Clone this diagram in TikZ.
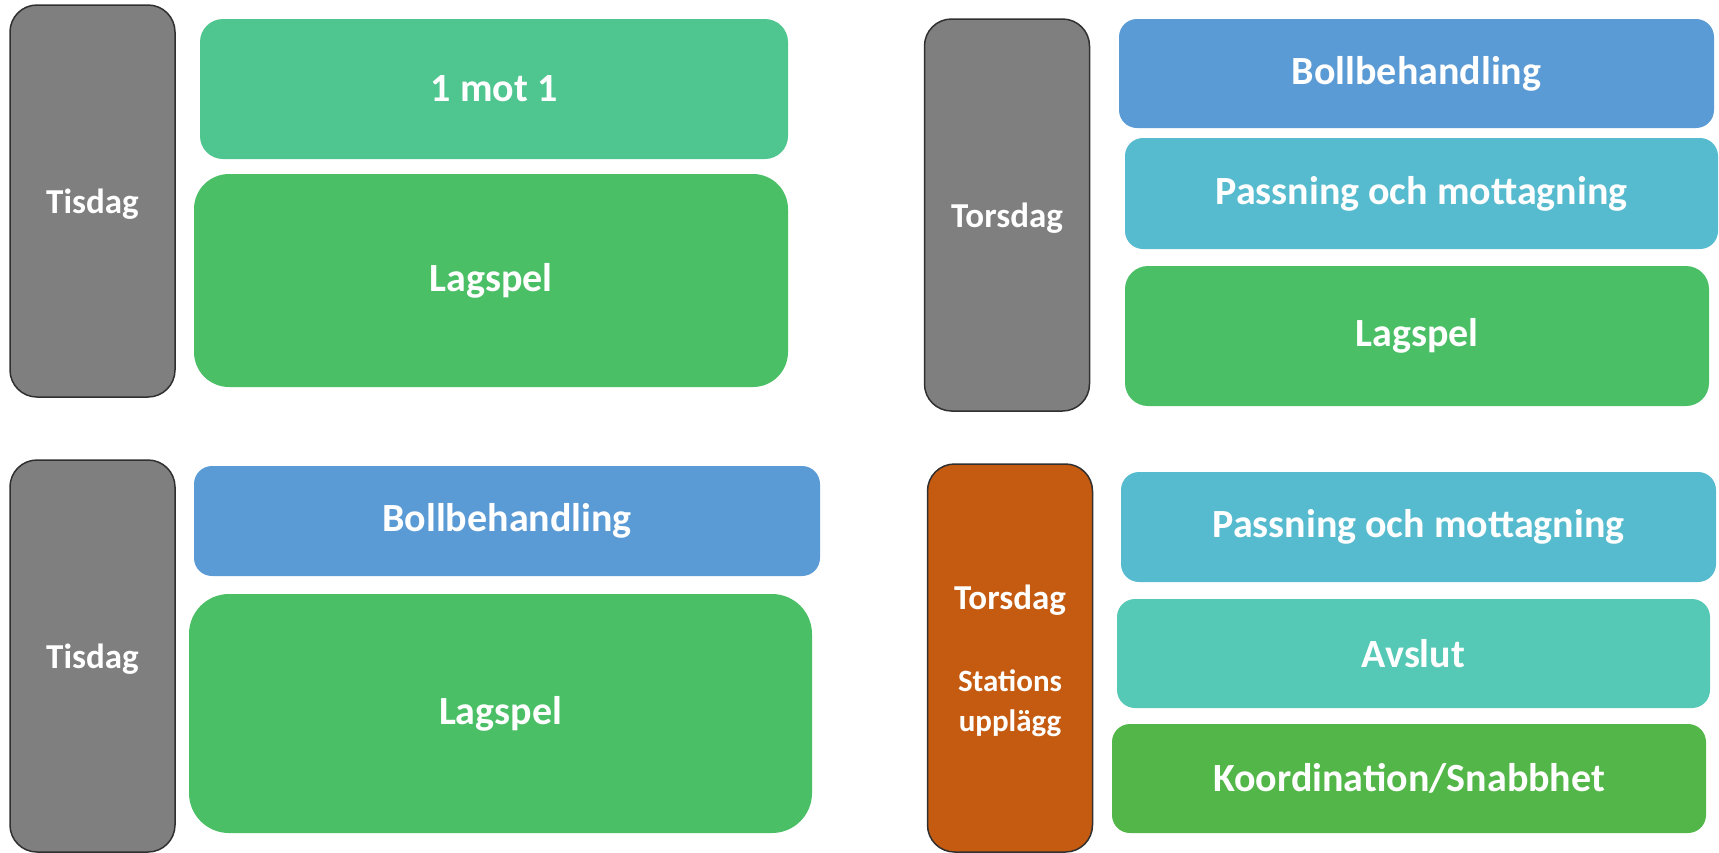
\documentclass[tikz,border=0pt]{standalone}
\usepackage{fontspec}
\setmainfont{Carlito}
\usepackage{xcolor}
\definecolor{colDay}{HTML}{7F7F7F}
\definecolor{colEdge}{HTML}{303030}
\definecolor{colOrange}{HTML}{C55A11}
\definecolor{colMint}{HTML}{4FC58F}
\definecolor{colGreen}{HTML}{4ABF66}
\definecolor{colBlue}{HTML}{5B9BD5}
\definecolor{colCyan}{HTML}{57BBCF}
\definecolor{colTeal}{HTML}{55C9B5}
\definecolor{colLeaf}{HTML}{52B748}
\newcommand{\stationfont}{\fontsize{15.5}{19.7}\selectfont}
\tikzset{
    daybox/.style={
        draw=colEdge, line width=0.75pt, fill=#1,
        rounded corners=13.5pt,
        minimum width=82.5pt, inner sep=0pt,
        text=white, align=center, text depth=0pt,
        font=\bfseries\fontsize{17.5}{19.7}\selectfont
    },
    daybox/.default=colDay,
    taskbox/.style={
        fill=#1, rounded corners=9pt,
        inner sep=0pt,
        text=white, align=center,
        font=\bfseries\fontsize{20}{24}\selectfont
    },
    taskbox/.default=colGreen,
}
\begin{document}
\begin{tikzpicture}[x=0.5pt, y=-0.5pt]
    \useasboundingbox (0,0) rectangle (1719,852);
    % tisdag, upper
    \node[daybox, minimum height=196pt] (tisA) at (92.5,201) {Tisdag};
    \node[taskbox=colMint, minimum width=294pt, minimum height=70pt,
          rounded corners=11.5pt] (motA) at (494,89) {1 mot 1};
    \node[taskbox, minimum width=297pt, minimum height=106.5pt,
          rounded corners=17.5pt] (lagA) at (491,280.5) {Lagspel};
    % torsdag, upper
    \node[daybox, minimum height=196pt] (torA) at (1007,215) {Torsdag};
    \node[taskbox=colBlue, minimum width=297.5pt, minimum height=54.5pt]
          (bollA) at (1416.5,73.5) {Bollbehandling};
    \node[taskbox=colCyan, minimum width=296.5pt, minimum height=55.5pt]
          (passA) at (1421.5,193.5) {Passning och mottagning};
    \node[taskbox, minimum width=292pt, minimum height=70pt,
          rounded corners=11.5pt] (lagB) at (1417,336) {Lagspel};
    % tisdag, lower
    \node[daybox, minimum height=196pt] (tisB) at (92.5,656) {Tisdag};
    \node[taskbox=colBlue, minimum width=313pt, minimum height=55pt]
          (bollB) at (507,521) {Bollbehandling};
    \node[taskbox, minimum width=311.5pt, minimum height=119.5pt,
          rounded corners=20pt] (lagC) at (500.5,713.5) {Lagspel};
    % torsdag, stationer
    \node[daybox=colOrange, minimum height=194pt] (torB) at (1010,658)
          {Torsdag\\[21.5pt]{\stationfont Stations}\\{\stationfont upplägg}};
    \node[taskbox=colCyan, minimum width=297.5pt, minimum height=55pt]
          (passB) at (1418.5,527) {Passning och mottagning};
    \node[taskbox=colTeal, minimum width=296.5pt, minimum height=54.5pt]
          (avslut) at (1413.5,653.5) {Avslut};
    \node[taskbox=colLeaf, minimum width=297pt, minimum height=54.5pt]
          (koord) at (1409,778.5) {Koordination/Snabbhet};
\end{tikzpicture}
\end{document}
